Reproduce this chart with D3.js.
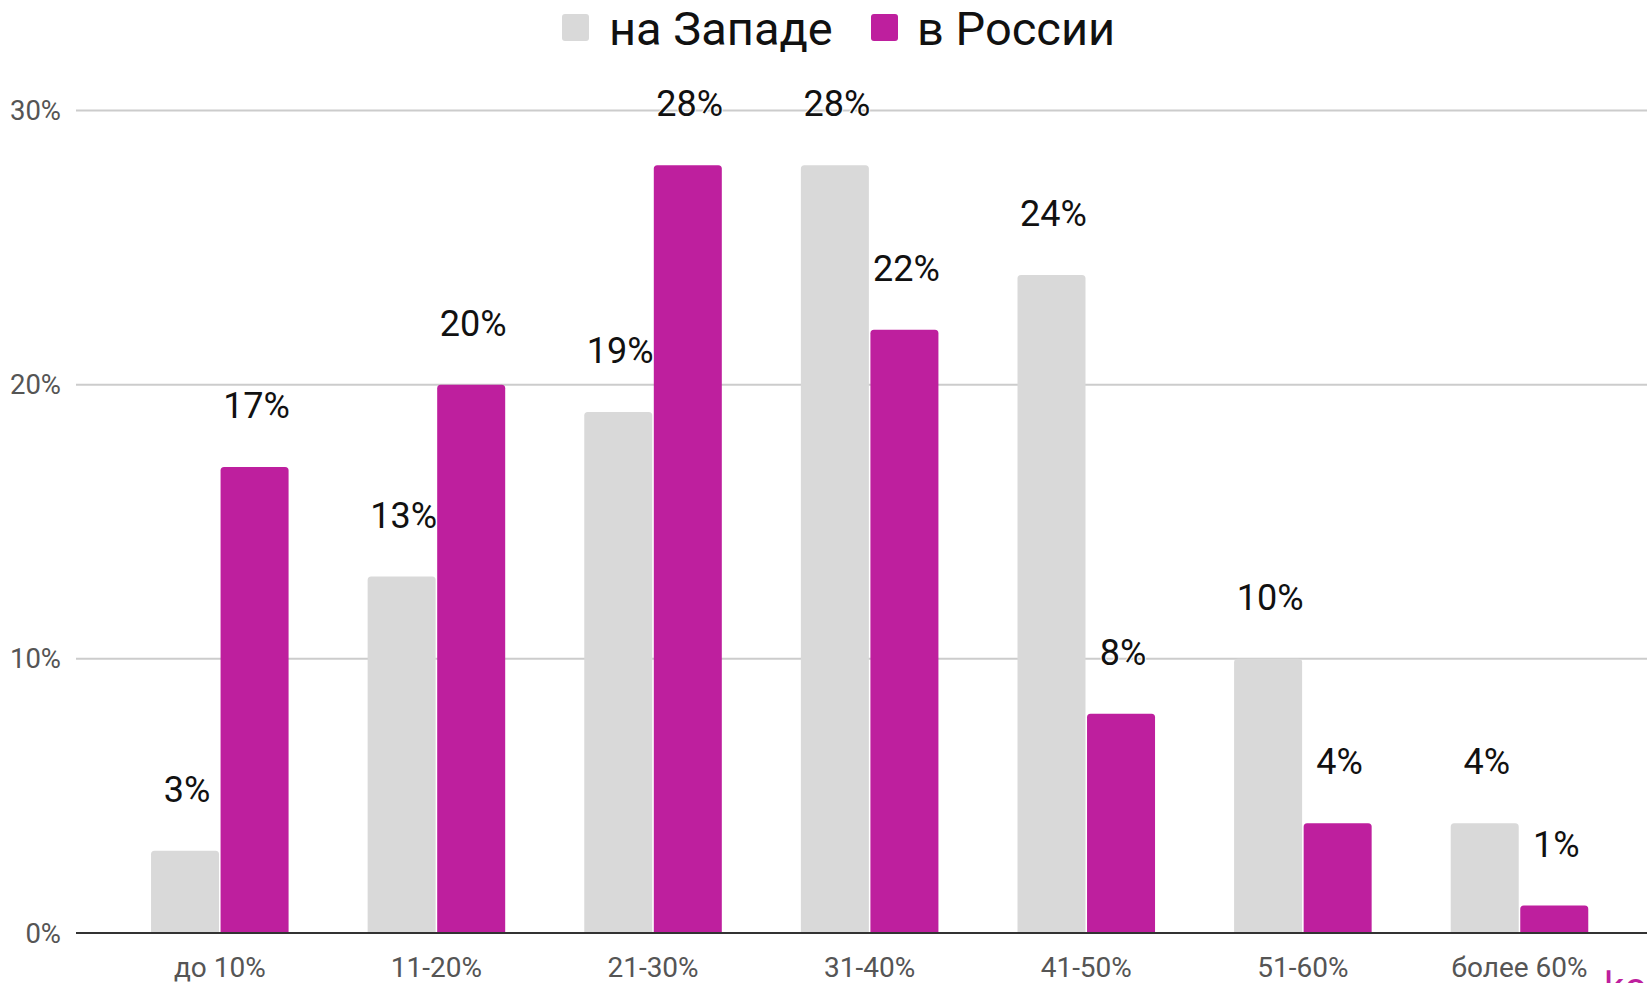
<!DOCTYPE html>
<html>
<head>
<meta charset="utf-8">
<script src="https://cdn.jsdelivr.net/npm/d3@7"></script>
<style>
  html, body { margin: 0; padding: 0; background: #fff; }
  svg { display: block; font-family: Roboto, "Noto Sans", sans-serif; }
</style>
</head>
<body>
<svg id="chart" width="1647" height="983"></svg>
<script>
const categories = ["до 10%", "11-20%", "21-30%", "31-40%", "41-50%", "51-60%", "более 60%"];
const seriesNames = ["на Западе", "в России"];
const westValues = [3, 13, 19, 28, 24, 10, 4];
const russiaValues = [17, 20, 28, 22, 8, 4, 1];
const yTicks = [0, 10, 20, 30];
const seriesColors = ["#d9d9d9", "#be1f9e"];

const W = 1647, H = 983;
const svg = d3.select("#chart");

const y = d3.scaleLinear().domain([0, 30]).range([933, 110.5]);
const x0 = d3.scaleBand().domain(categories).range([111.5, 1627.8])
  .paddingInner(0.365).paddingOuter(0.1825);
const x1 = d3.scaleBand().domain(seriesNames).range([0, x0.bandwidth()]).paddingInner(0.022);

const gridLeft = 76, gridRight = W;

// gridlines
svg.append("g").selectAll("line").data(yTicks.filter(d => d > 0)).join("line")
  .attr("x1", gridLeft).attr("x2", gridRight)
  .attr("y1", d => y(d)).attr("y2", d => y(d))
  .attr("stroke", "#cccccc").attr("stroke-width", 2);

// y tick labels
svg.append("g").selectAll("text").data(yTicks).join("text")
  .attr("x", 61).attr("y", d => y(d) + 9.5)
  .attr("text-anchor", "end")
  .attr("font-size", 27.5).attr("fill", "#555")
  .text(d => d + "%");

const data = categories.map((c, i) => ({
  cat: c,
  vals: [
    { s: seriesNames[0], v: westValues[i], color: seriesColors[0] },
    { s: seriesNames[1], v: russiaValues[i], color: seriesColors[1] }
  ]
}));

function topRounded(x, yTop, w, h, r) {
  r = Math.min(r, h, w / 2);
  return `M${x},${yTop + h} L${x},${yTop + r} Q${x},${yTop} ${x + r},${yTop} L${x + w - r},${yTop} Q${x + w},${yTop} ${x + w},${yTop + r} L${x + w},${yTop + h} Z`;
}

const groups = svg.append("g").selectAll("g").data(data).join("g")
  .attr("transform", d => `translate(${x0(d.cat)},0)`);

groups.selectAll("path").data(d => d.vals).join("path")
  .attr("d", d => topRounded(x1(d.s), y(d.v), x1.bandwidth(), y(0) - y(d.v), 3.5))
  .attr("fill", d => d.color);

// baseline axis
svg.append("line").attr("x1", gridLeft).attr("x2", gridRight)
  .attr("y1", y(0)).attr("y2", y(0))
  .attr("stroke", "#333").attr("stroke-width", 2);

// value labels
groups.selectAll("text.val").data(d => d.vals).join("text")
  .attr("class", "val")
  .attr("x", d => x1(d.s) + x1.bandwidth() / 2 + 2)
  .attr("y", d => y(d.v) - 49)
  .attr("text-anchor", "middle")
  .attr("font-size", 36).attr("fill", "#111")
  .attr("stroke", "#fff").attr("stroke-width", 2).attr("paint-order", "stroke")
  .text(d => d.v + "%");

// x axis labels
svg.append("g").selectAll("text").data(categories).join("text")
  .attr("x", d => x0(d) + x0.bandwidth() / 2)
  .attr("y", 977)
  .attr("text-anchor", "middle")
  .attr("font-size", 28).attr("fill", "#555")
  .text(d => d);

// legend
const legendItems = [
  { name: seriesNames[0], color: seriesColors[0], sx: 562, tx: 609 },
  { name: seriesNames[1], color: seriesColors[1], sx: 871, tx: 917 }
];
const lg = svg.append("g");
lg.selectAll("rect").data(legendItems).join("rect")
  .attr("x", d => d.sx).attr("y", 14).attr("width", 27).attr("height", 27)
  .attr("rx", 3).attr("fill", d => d.color);
lg.selectAll("text").data(legendItems).join("text")
  .attr("x", d => d.tx).attr("y", 45)
  .attr("font-size", 47).attr("fill", "#111")
  .text(d => d.name);

// cut-off pink text at bottom right (cropped in the reference too)
svg.append("text").attr("x", 1604).attr("y", 1001)
  .attr("font-size", 40).attr("fill", seriesColors[1]).text("ko");
</script>
</body>
</html>
